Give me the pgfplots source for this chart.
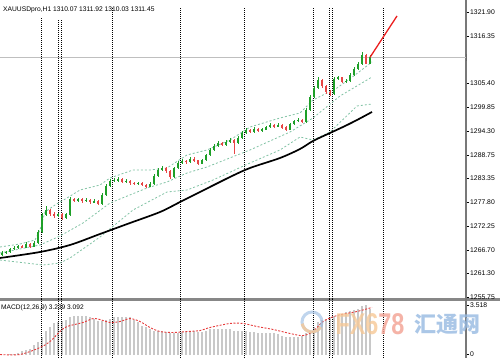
\documentclass[border=0pt]{standalone}
\usepackage{pgfplots}
\pgfplotsset{compat=1.18}
\usepackage{pgfplotstable}
\usepackage{fontspec}
\setmainfont{Liberation Sans}
\newfontfamily\cjk{Noto Sans CJK SC}
\definecolor{cgreen}{RGB}{30,160,40}
\definecolor{cred}{RGB}{232,70,70}
\definecolor{band}{RGB}{130,195,165}
\definecolor{axgray}{RGB}{120,120,120}
\definecolor{sepgray}{RGB}{135,135,135}
\definecolor{histgray}{RGB}{200,200,200}
\definecolor{sigred}{RGB}{230,60,60}
\definecolor{trendred}{RGB}{235,30,30}
\definecolor{wmorange}{RGB}{246,200,150}
\definecolor{wmpink}{RGB}{242,160,145}
\definecolor{wmblue}{RGB}{150,185,225}
\pgfplotsset{candle/.style={only marks, mark=*, mark size=0pt, mark options={draw=none, fill=none},
  error bars/.cd, y dir=both, y explicit, error mark=none}}

\pgfplotstableread{
i o h l c
0 1265.60 1266.40 1265.30 1266.03
1 1266.03 1266.60 1265.80 1266.26
2 1266.26 1267.30 1266.00 1266.96
3 1266.96 1267.60 1266.70 1267.19
4 1267.19 1268.00 1266.90 1267.65
5 1267.65 1267.90 1267.10 1267.40
6 1267.40 1268.50 1267.20 1268.12
7 1268.12 1268.40 1267.30 1267.60
8 1267.60 1268.80 1267.40 1268.35
9 1268.35 1271.30 1268.10 1270.90
10 1270.90 1275.30 1270.60 1274.85
11 1274.85 1276.90 1274.50 1276.01
12 1276.01 1276.30 1274.70 1275.08
13 1275.08 1275.50 1274.20 1274.62
14 1274.62 1275.40 1274.30 1275.00
15 1275.00 1275.30 1273.80 1274.15
16 1274.15 1275.20 1273.90 1274.90
17 1274.90 1279.00 1274.70 1278.56
18 1278.56 1278.90 1277.80 1278.10
19 1278.10 1278.90 1277.90 1278.56
20 1278.56 1278.80 1277.70 1278.10
21 1278.10 1278.70 1277.90 1278.33
22 1278.33 1278.60 1277.50 1277.86
23 1277.86 1278.50 1277.60 1278.10
24 1278.10 1278.30 1277.10 1277.40
25 1277.40 1279.90 1277.20 1279.49
26 1279.49 1282.00 1279.30 1281.58
27 1281.58 1283.20 1281.30 1282.74
28 1282.74 1283.50 1282.40 1282.97
29 1282.97 1283.60 1282.60 1283.20
30 1283.20 1283.50 1282.20 1282.51
31 1282.51 1283.10 1282.20 1282.74
32 1282.74 1283.00 1281.90 1282.28
33 1282.28 1282.50 1281.70 1282.04
34 1282.04 1282.60 1281.80 1282.28
35 1282.28 1282.50 1281.50 1281.81
36 1281.81 1282.10 1281.20 1281.50
37 1281.50 1282.40 1281.30 1282.04
38 1282.04 1284.30 1281.80 1283.90
39 1283.90 1285.70 1283.60 1285.29
40 1285.29 1286.20 1285.00 1285.76
41 1285.76 1286.00 1284.70 1285.06
42 1285.06 1285.30 1283.20 1283.67
43 1283.67 1286.10 1283.40 1285.76
44 1285.76 1287.30 1285.50 1286.92
45 1286.92 1287.80 1286.60 1287.38
46 1287.38 1287.60 1286.80 1287.15
47 1287.15 1288.20 1286.90 1287.85
48 1287.85 1288.20 1287.10 1287.40
49 1287.40 1287.60 1286.50 1286.90
50 1286.90 1287.90 1286.60 1287.61
51 1287.61 1289.10 1287.40 1288.78
52 1288.78 1290.40 1288.50 1289.94
53 1289.94 1291.30 1289.70 1290.86
54 1290.86 1292.00 1290.60 1291.56
55 1291.56 1291.90 1290.80 1291.10
56 1291.10 1292.20 1290.90 1291.79
57 1291.79 1292.70 1291.50 1292.26
58 1292.26 1292.60 1288.90 1291.60
59 1291.60 1293.10 1291.30 1292.72
60 1292.72 1294.30 1292.50 1293.88
61 1293.88 1295.00 1293.60 1294.58
62 1294.58 1294.90 1293.80 1294.10
63 1294.10 1295.20 1293.90 1294.81
64 1294.81 1295.10 1294.00 1294.35
65 1294.35 1295.10 1294.10 1294.70
66 1294.70 1295.60 1294.50 1295.27
67 1295.27 1296.10 1295.00 1295.74
68 1295.74 1296.00 1295.10 1295.40
69 1295.40 1296.10 1295.20 1295.74
70 1295.74 1296.00 1294.90 1295.20
71 1295.20 1295.40 1294.30 1294.70
72 1294.70 1296.30 1294.50 1295.97
73 1295.97 1297.00 1295.70 1296.67
74 1296.67 1297.30 1296.40 1296.90
75 1296.90 1297.20 1296.10 1296.43
76 1296.43 1299.60 1296.20 1299.22
77 1299.22 1302.60 1299.00 1302.23
78 1302.23 1304.80 1302.00 1304.32
79 1304.32 1306.90 1304.00 1306.18
80 1306.18 1306.50 1304.40 1304.79
81 1304.79 1305.10 1303.00 1303.40
82 1303.40 1303.80 1302.50 1302.93
83 1302.93 1306.80 1302.70 1306.41
84 1306.41 1307.10 1306.10 1306.70
85 1306.70 1306.90 1305.40 1305.72
86 1305.72 1306.30 1305.50 1305.95
87 1305.95 1307.70 1305.70 1307.34
88 1307.34 1309.10 1307.10 1308.74
89 1308.74 1310.30 1308.50 1309.90
90 1309.90 1312.60 1309.70 1311.90
91 1311.90 1312.30 1309.80 1310.07
92 1310.07 1311.92 1310.03 1311.45
}\candles

\pgfplotstableread{
i m
0 0.00
1 0.00
2 0.07
3 0.07
4 0.14
5 0.22
6 0.29
7 0.43
8 0.65
9 0.93
10 1.29
11 1.72
12 2.01
13 2.23
14 2.37
15 2.44
16 2.51
17 2.66
18 2.73
19 2.73
20 2.73
21 2.73
22 2.66
23 2.58
24 2.44
25 2.44
26 2.51
27 2.58
28 2.66
29 2.66
30 2.66
31 2.66
32 2.66
33 2.51
34 2.30
35 2.08
36 1.94
37 1.80
38 1.72
39 1.72
40 1.72
41 1.65
42 1.58
43 1.58
44 1.58
45 1.65
46 1.65
47 1.72
48 1.72
49 1.65
50 1.65
51 1.72
52 1.80
53 1.80
54 1.80
55 1.80
56 1.80
57 1.80
58 1.72
59 1.72
60 1.72
61 1.72
62 1.65
63 1.65
64 1.58
65 1.58
66 1.58
67 1.51
68 1.51
69 1.44
70 1.36
71 1.29
72 1.29
73 1.29
74 1.29
75 1.36
76 1.51
77 1.72
78 2.01
79 2.37
80 2.51
81 2.58
82 2.66
83 2.80
84 2.87
85 2.94
86 3.02
87 3.09
88 3.23
89 3.30
90 3.45
91 3.52
92 3.24
}\macd

\begin{document}
\begin{tikzpicture}[x=1pt,y=1pt]
\useasboundingbox (0,0) rectangle (500,358);

% panel separator (drawn first so labels and dotted lines lie over it)
\fill[sepgray] (0,56.5) rectangle (500,59.5);

% ---------------- main price panel ----------------
\begin{axis}[
  at={(0pt,58pt)}, anchor=south west, scale only axis,
  width=466pt, height=300pt,
  xmin=-0.5, xmax=116, ymin=1255.12, ymax=1324.75,
  axis x line=none, axis y line*=right,
  y axis line style={draw=axgray, line width=1.6pt, -},
  ytick={1321.90,1316.35,1305.40,1299.85,1294.30,1288.75,1283.35,1277.80,1272.25,1266.70,1261.30,1255.75},
  yticklabels={1321.90,1316.35,1305.40,1299.85,1294.30,1288.75,1283.35,1277.80,1272.25,1266.70,1261.30,1255.75},
  tick align=outside, major tick length=3pt,
  ytick style={draw=black, line width=0.6pt},
  yticklabel style={font=\fontsize{6.8}{7}\selectfont, inner sep=0pt, anchor=west, xshift=1pt},
  unbounded coords=jump,
]
% vertical dotted separators
\addplot[black, line width=0.7pt, dash pattern=on 1pt off 1pt] coordinates {
(9.75,1254.5)(9.75,1320.6)(9.75,nan)
(14,1254.5)(14,1320.2)(14,nan)
(14.75,1254.5)(14.75,1320.2)(14.75,nan)
(27.5,1254.5)(27.5,1322.9)(27.5,nan)
(44.5,1254.5)(44.5,1322.9)(44.5,nan)
(60.5,1254.5)(60.5,1322.9)(60.5,nan)
(77.75,1254.5)(77.75,1322.9)(77.75,nan)
(81.75,1254.5)(81.75,1322.9)(81.75,nan)
(82.5,1254.5)(82.5,1322.9)(82.5,nan)
(95.25,1254.5)(95.25,1322.9)};
% current price line
\addplot[black!25, line width=0.8pt] coordinates {(-0.5,1311.45)(116,1311.45)};
% bands
\addplot[band, line width=0.8pt, dash pattern=on 2pt off 2pt] coordinates {
(-0.5,1267.42)(4.5,1268.12)(8.25,1269.05)(9.5,1271.37)(10.75,1275.54)(13.25,1277.17)(16.25,1278.79)(19.5,1280.65)(24.5,1281.81)(27,1283.44)(32.75,1285.29)(37,1285.29)(41.25,1285.76)(46.25,1288.78)(51.25,1289.94)(57,1292.26)(62,1295.27)(69.5,1297.36)(74.5,1298.52)(77.75,1301.54)(83.75,1304.32)(88.25,1307.34)(92.5,1310.36)};
\addplot[band, line width=0.8pt, dash pattern=on 2pt off 2pt] coordinates {
(-0.5,1266.03)(9.5,1267.89)(14.5,1269.97)(20.25,1272.99)(27,1277.63)(36.25,1281.11)(41.25,1282.51)(46.25,1284.60)(51.25,1285.99)(62,1289.94)(72,1294.11)(77.75,1297.36)(84.5,1302.47)(92.5,1306.88)};
\addplot[band, line width=0.8pt, dash pattern=on 2pt off 2pt] coordinates {
(-0.5,1264.40)(10.25,1263.24)(14.5,1263.71)(17,1264.87)(24.5,1269.74)(32.75,1276.01)(41.25,1280.19)(46.25,1280.65)(52.75,1282.97)(62,1286.92)(69.5,1289.94)(74.5,1292.95)(77.75,1292.26)(82,1294.11)(88.75,1300.15)(92.5,1300.61)};
% moving average
\addplot[black, line width=1.7pt, smooth] coordinates {
(-0.5,1264.87)(9.5,1266.26)(17,1267.89)(24.5,1270.44)(32,1272.99)(39.5,1275.54)(44.5,1277.86)(49.5,1280.19)(57,1283.67)(62,1285.76)(69.5,1288.08)(74.5,1290.17)(77.75,1292.03)(82,1293.88)(85.75,1295.50)(88.75,1296.90)(92.5,1298.76)};
% candle wicks
\addplot[candle, error bar style={draw=cgreen, line width=0.8pt}]
  table[x=i, y expr={\thisrow{c}>=\thisrow{o} ? 0.5*(\thisrow{h}+\thisrow{l}) : nan},
        y error expr={0.5*(\thisrow{h}-\thisrow{l})}] {\candles};
\addplot[candle, error bar style={draw=cred, line width=0.8pt}]
  table[x=i, y expr={\thisrow{c}<\thisrow{o} ? 0.5*(\thisrow{h}+\thisrow{l}) : nan},
        y error expr={0.5*(\thisrow{h}-\thisrow{l})}] {\candles};
% candle bodies
\addplot[candle, error bar style={draw=cgreen, line width=2.6pt}]
  table[x=i, y expr={\thisrow{c}>=\thisrow{o} ? 0.5*(\thisrow{o}+\thisrow{c}) : nan},
        y error expr={0.5*abs(\thisrow{c}-\thisrow{o})+0.1}] {\candles};
\addplot[candle, error bar style={draw=cred, line width=2.6pt}]
  table[x=i, y expr={\thisrow{c}<\thisrow{o} ? 0.5*(\thisrow{o}+\thisrow{c}) : nan},
        y error expr={0.5*abs(\thisrow{c}-\thisrow{o})+0.1}] {\candles};
% trend line
\addplot[trendred, line width=1.3pt] coordinates {(92,1311.45)(98.75,1321.04)};
% price box
\node[anchor=west, fill=black, text=white, inner sep=1.2pt, font=\fontsize{6.5}{7}\selectfont]
  at (axis cs:116,1311.45) {1311.45};
\end{axis}

% ---------------- MACD panel ----------------
\begin{axis}[
  at={(0pt,0pt)}, anchor=south west, scale only axis,
  width=466pt, height=58pt,
  xmin=-0.5, xmax=116, ymin=-0.25, ymax=3.914,
  axis x line=none, axis y line*=right,
  y axis line style={draw=axgray, line width=1.6pt, -},
  ytick={0,3.518}, yticklabels={0,3.518},
  tick align=outside, major tick length=3pt,
  ytick style={draw=black, line width=0.6pt},
  yticklabel style={font=\fontsize{6.8}{7}\selectfont, inner sep=0pt, anchor=west, xshift=1pt},
  unbounded coords=jump,
]
\addplot[ycomb, no markers, draw=histgray, line width=1.2pt] table[x=i, y=m] {\macd};
\addplot[black, line width=0.7pt, dash pattern=on 1pt off 1pt] coordinates {
(9.75,-0.25)(9.75,4)(9.75,nan)
(14,-0.25)(14,4)(14,nan)
(14.75,-0.25)(14.75,4)(14.75,nan)
(27.5,-0.25)(27.5,4)(27.5,nan)
(44.5,-0.25)(44.5,4)(44.5,nan)
(60.5,-0.25)(60.5,4)(60.5,nan)
(77.75,-0.25)(77.75,4)(77.75,nan)
(81.75,-0.25)(81.75,4)(81.75,nan)
(82.5,-0.25)(82.5,4)(82.5,nan)
(95.25,-0.25)(95.25,4)};
\addplot[sigred, line width=0.9pt, dash pattern=on 2pt off 1.5pt, smooth] coordinates {
(-0.5,0.00)(4.5,0.00)(9.5,0.50)(12,0.93)(14.5,1.65)(16.25,2.01)(20.25,2.30)(22.75,2.58)(24.5,2.51)(27,2.30)(29.5,2.37)(32,2.58)(34.5,2.37)(37,1.94)(39.5,1.65)(42.75,1.58)(46.25,1.65)(49.5,1.72)(52,1.94)(57,2.23)(60.25,2.23)(63.75,2.01)(67.75,1.80)(72,1.51)(75.25,1.36)(77.75,1.65)(80.25,2.37)(83.75,2.80)(88.75,3.09)(92.5,3.38)};
\end{axis}

% labels
\node[anchor=west, inner sep=0pt, font=\fontsize{6.7}{7}\selectfont] at (3,348) {XAUUSDpro,H1 1310.07 1311.92 1310.03 1311.45};
\node[anchor=west, inner sep=0pt, font=\fontsize{6.6}{7}\selectfont] at (1,50) {MACD(12,26,9) 3.239 3.092};

% watermark
\draw[wmblue, line width=3pt, opacity=0.6] (312,36) circle (10);
\draw[wmorange, line width=3pt, opacity=0.8] (312,36) ++(190:10) arc (190:330:10);
\node[opacity=0.8, inner sep=0pt, xscale=0.78, font=\fontsize{30}{30}\selectfont\bfseries] at (370,34) {\textcolor{wmorange}{FX6}\textcolor{wmpink}{78}};
\node[opacity=0.8, inner sep=0pt, text=wmblue, font=\cjk\fontsize{22}{22}\selectfont\bfseries] at (447,34) {汇通网};
\end{tikzpicture}
\end{document}
